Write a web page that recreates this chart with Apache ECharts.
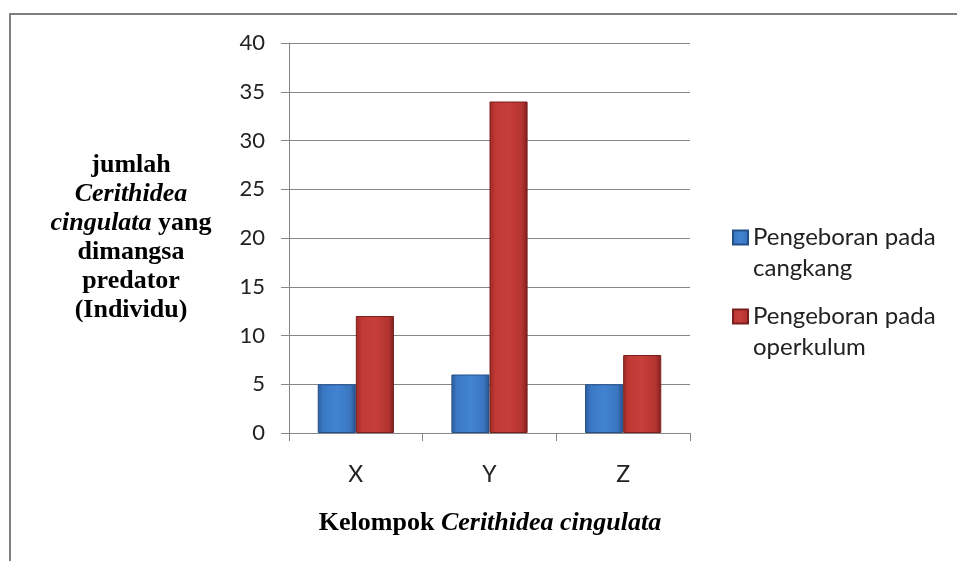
<!DOCTYPE html>
<html>
<head>
<meta charset="utf-8">
<script src="https://cdn.jsdelivr.net/npm/echarts@6/dist/echarts.min.js"></script>
<style>
html, body { margin: 0; padding: 0; background: #fff; }
#chart { width: 957px; height: 561px; }
</style>
</head>
<body>
<div id="chart"></div>
<script>
var kelompok = ['X', 'Y', 'Z'];
var seriesNames = ['Pengeboran pada cangkang', 'Pengeboran pada operkulum'];
var cangkang = [5, 6, 5];
var operkulum = [12, 34, 8];
var yTicks = [0, 5, 10, 15, 20, 25, 30, 35, 40];

var chart = echarts.init(document.getElementById('chart'));

// bevel-ish look of the old office bars
var blueFill = new echarts.graphic.LinearGradient(0, 0, 1, 0, [
  { offset: 0, color: '#2b5d9f' },
  { offset: 0.15, color: '#3a78c4' },
  { offset: 0.5, color: '#4284d1' },
  { offset: 0.85, color: '#3a76c0' },
  { offset: 1, color: '#25528c' }
]);
var redFill = new echarts.graphic.LinearGradient(0, 0, 1, 0, [
  { offset: 0, color: '#9c2a26' },
  { offset: 0.15, color: '#c13834' },
  { offset: 0.5, color: '#c83e3a' },
  { offset: 0.85, color: '#b33430' },
  { offset: 1, color: '#7e201d' }
]);

var serif = '"Liberation Serif", "DejaVu Serif", serif';

chart.setOption({
  animation: false,
  backgroundColor: '#fff',
  grid: { left: 289, right: 267, top: 43, bottom: 128 },
  legend: [
    {
      data: [seriesNames[0]],
      left: 732, top: 191, padding: 0,
      itemWidth: 15, itemHeight: 14,
      icon: 'rect',
      formatter: function (n) { return '\n' + n.replace('pada ', 'pada\n'); },
      textStyle: { fontFamily: 'Lato', fontSize: 24, lineHeight: 31, color: '#222' }
    },
    {
      data: [seriesNames[1]],
      left: 732, top: 270, padding: 0,
      itemWidth: 15, itemHeight: 14,
      icon: 'rect',
      formatter: function (n) { return '\n' + n.replace('pada ', 'pada\n'); },
      textStyle: { fontFamily: 'Lato', fontSize: 24, lineHeight: 31, color: '#222' }
    }
  ],
  xAxis: {
    type: 'category',
    data: kelompok,
    axisLine: { lineStyle: { color: '#868686', width: 1 } },
    axisTick: { show: true, length: 8, lineStyle: { color: '#868686' } },
    axisLabel: { fontFamily: 'Lato', fontSize: 23, color: '#222', margin: 30 }
  },
  yAxis: {
    type: 'value',
    min: yTicks[0],
    max: yTicks[yTicks.length - 1],
    interval: 5,
    axisLine: { show: true, lineStyle: { color: '#868686', width: 1 } },
    axisTick: { show: true, length: 8, lineStyle: { color: '#868686' } },
    splitLine: { lineStyle: { color: '#868686', width: 1 } },
    axisLabel: { fontFamily: 'Lato', fontSize: 22, color: '#222', margin: 24 }
  },
  series: [
    {
      name: seriesNames[0],
      type: 'bar',
      data: cangkang,
      barGap: 0,
      barCategoryGap: '43%',
      itemStyle: { color: blueFill, borderColor: '#24508a', borderWidth: 1 }
    },
    {
      name: seriesNames[1],
      type: 'bar',
      data: operkulum,
      itemStyle: { color: redFill, borderColor: '#7a1f1c', borderWidth: 1 }
    }
  ],
  graphic: [
    // page frame
    { type: 'line', shape: { x1: 10, y1: 14, x2: 957, y2: 14 }, style: { stroke: '#7f7f7f', lineWidth: 2 }, silent: true },
    { type: 'line', shape: { x1: 10, y1: 13, x2: 10, y2: 561 }, style: { stroke: '#7f7f7f', lineWidth: 2 }, silent: true },
    {
      type: 'text',
      x: 131, y: 238,
      style: {
        text: '{b|jumlah}\n{i|Cerithidea}\n{i|cingulata}{b| yang}\n{b|dimangsa}\n{b|predator}\n{b|(Individu)}',
        align: 'center',
        verticalAlign: 'middle',
        fill: '#000',
        rich: {
          b: { fontFamily: serif, fontWeight: 'bold', fontSize: 26, lineHeight: 29, fill: '#000' },
          i: { fontFamily: serif, fontWeight: 'bold', fontStyle: 'italic', fontSize: 26, lineHeight: 29, fill: '#000' }
        }
      }
    },
    {
      type: 'text',
      x: 490, y: 523,
      style: {
        text: '{b|Kelompok }{i|Cerithidea cingulata}',
        align: 'center',
        verticalAlign: 'middle',
        fill: '#000',
        rich: {
          b: { fontFamily: serif, fontWeight: 'bold', fontSize: 26, fill: '#000' },
          i: { fontFamily: serif, fontWeight: 'bold', fontStyle: 'italic', fontSize: 26, fill: '#000' }
        }
      }
    }
  ]
});
</script>
</body>
</html>
